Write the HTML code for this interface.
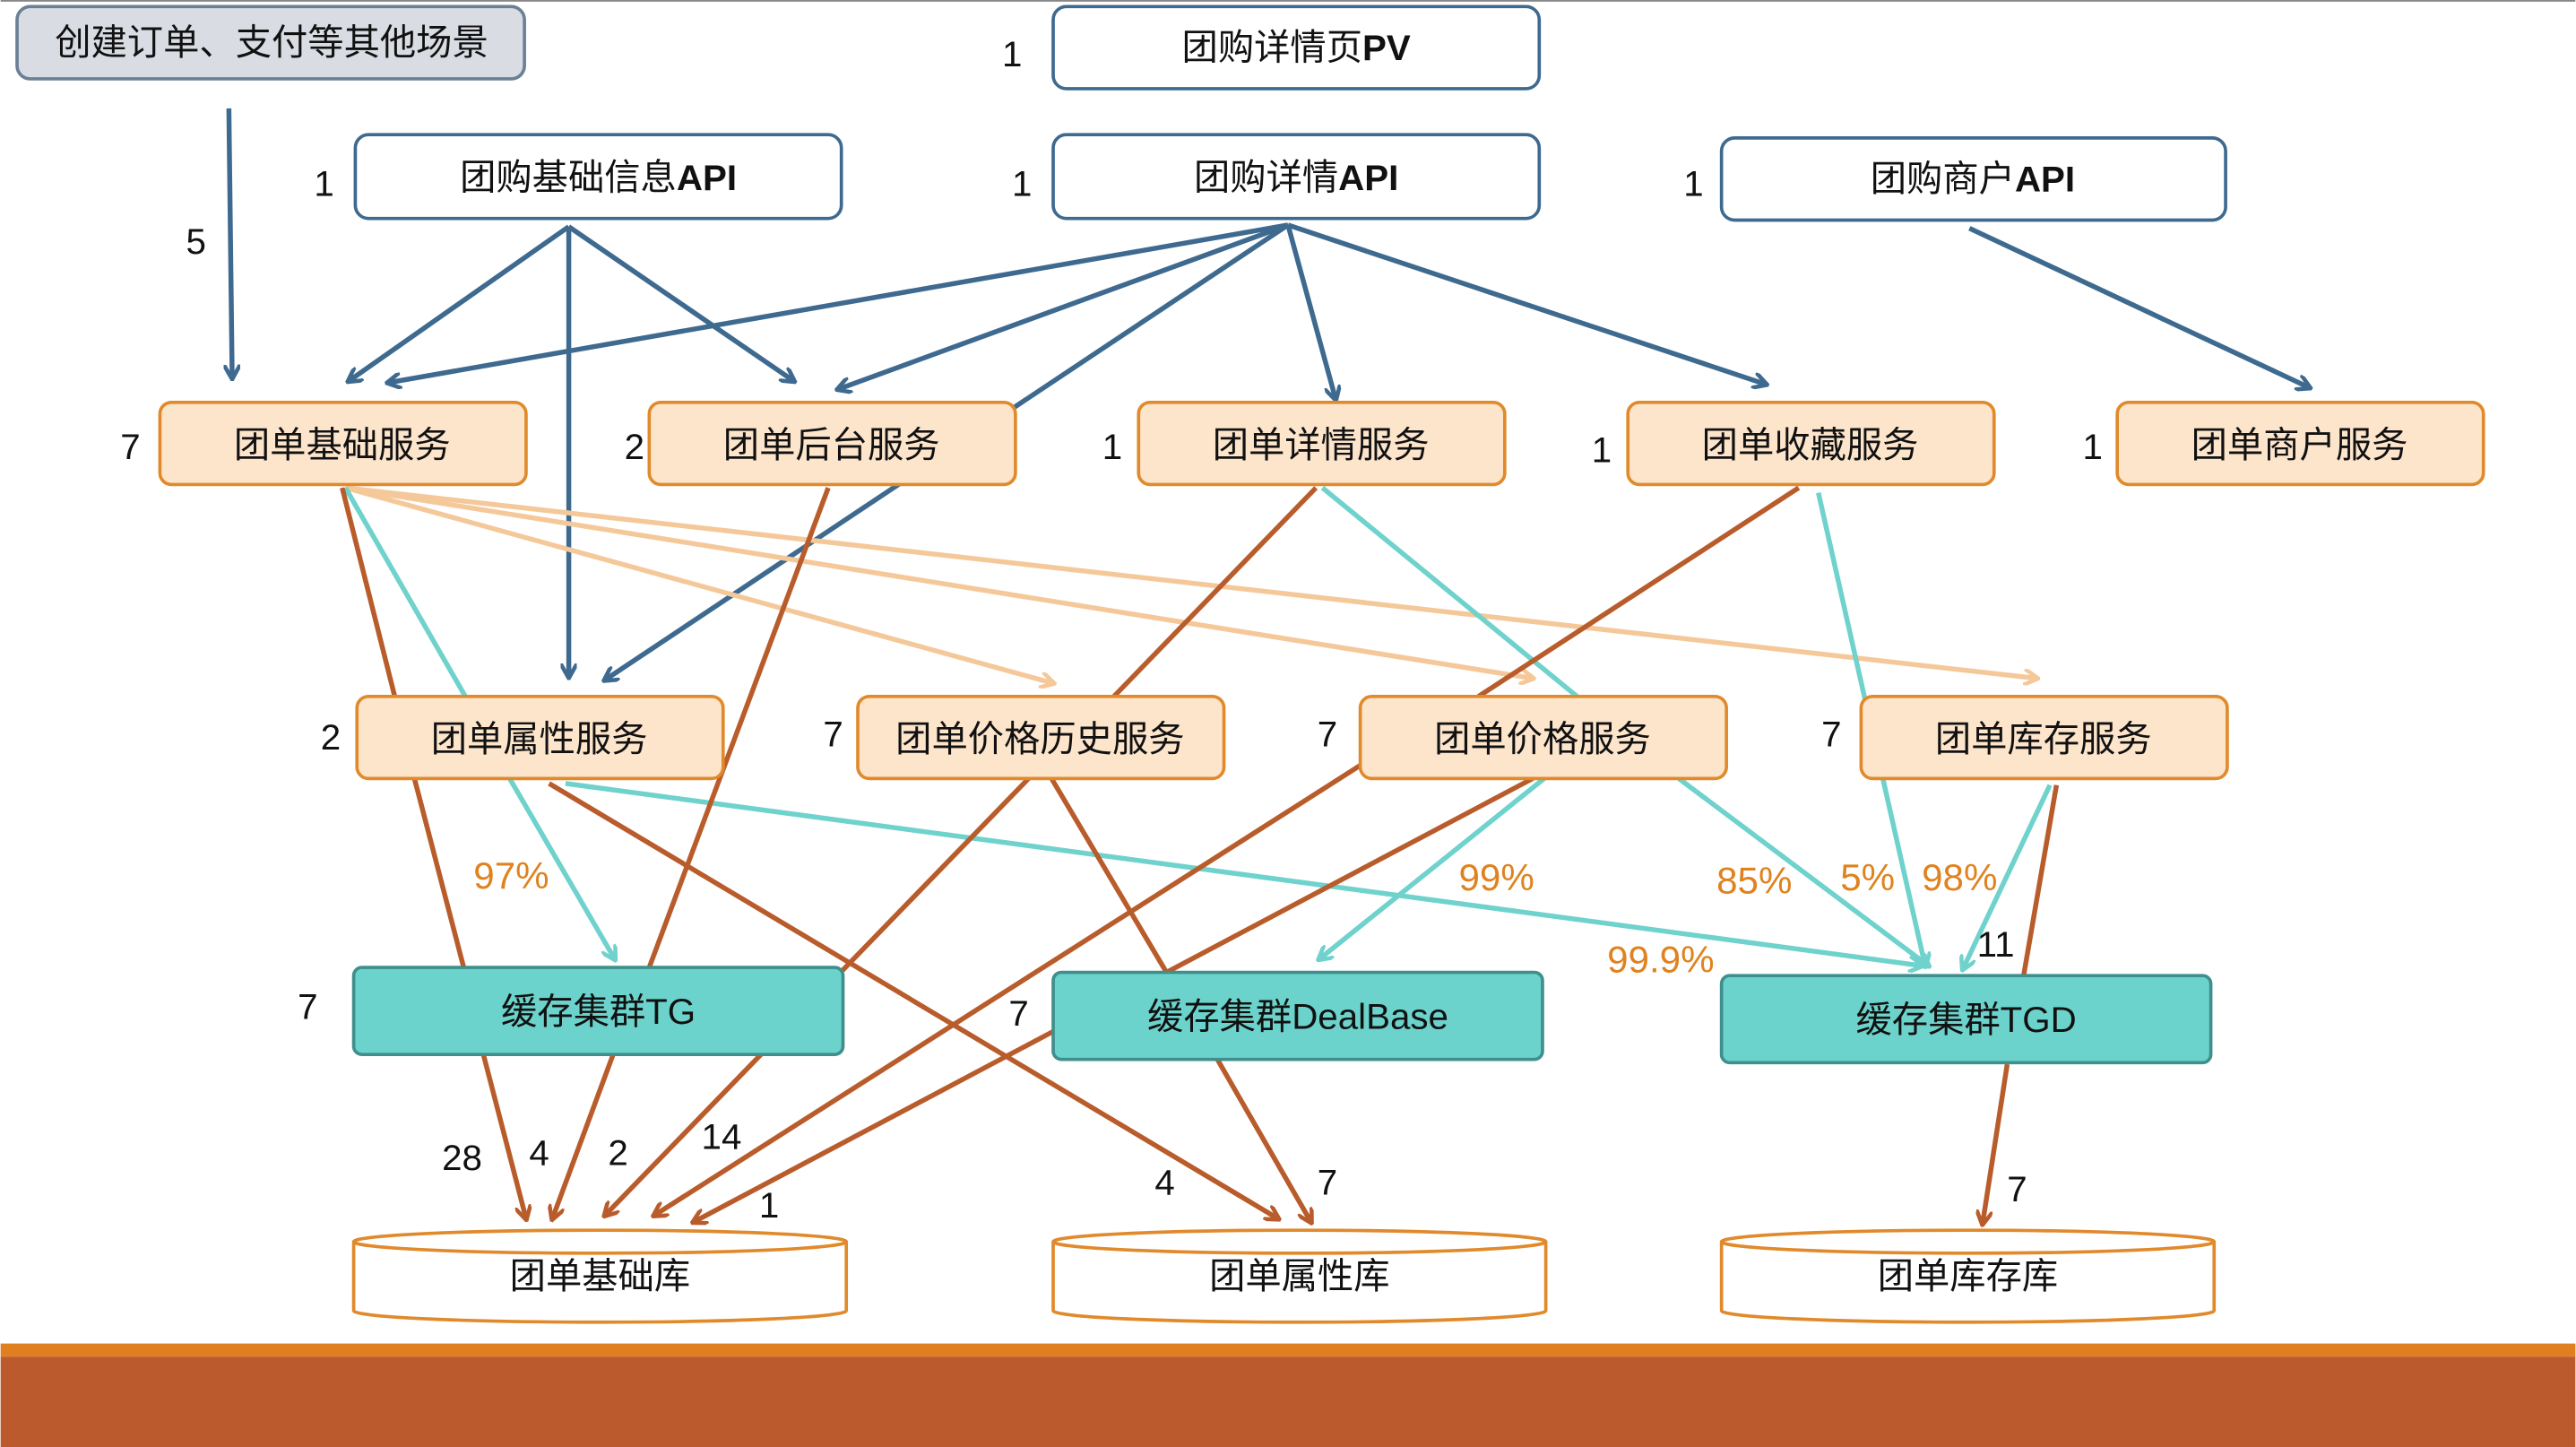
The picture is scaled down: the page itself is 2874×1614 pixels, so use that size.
<!DOCTYPE html>
<html><head><meta charset="utf-8"><style>
html,body{margin:0;padding:0;background:#fff;width:2874px;height:1614px;overflow:hidden}
svg{display:block}
text{font-family:"Liberation Sans","Noto Sans CJK SC",sans-serif;font-size:22px;fill:#111}
.c{text-anchor:middle;dominant-baseline:central}
.p{fill:#e0821f;font-size:23px}
.b{stroke:#3e6a8f;stroke-width:3;fill:none}
.r{stroke:#b95c2c;stroke-width:3;fill:none}
.t{stroke:#6fd2cc;stroke-width:3;fill:none}
.o{stroke:#f5c89a;stroke-width:3;fill:none}
</style></head><body>
<svg width="2874" height="1614" viewBox="0 0 1568 881">
<defs>
<marker id="ab" markerWidth="10" markerHeight="10" refX="8" refY="5" orient="auto" markerUnits="userSpaceOnUse"><path d="M0,0 L9,5 L0,10" fill="none" stroke="#3e6a8f" stroke-width="2.5"/></marker>
<marker id="ar" markerWidth="10" markerHeight="10" refX="8" refY="5" orient="auto" markerUnits="userSpaceOnUse"><path d="M0,0 L9,5 L0,10" fill="none" stroke="#b95c2c" stroke-width="2.5"/></marker>
<marker id="at" markerWidth="10" markerHeight="10" refX="8" refY="5" orient="auto" markerUnits="userSpaceOnUse"><path d="M0,0 L9,5 L0,10" fill="none" stroke="#6fd2cc" stroke-width="2.5"/></marker>
<marker id="ao" markerWidth="10" markerHeight="10" refX="8" refY="5" orient="auto" markerUnits="userSpaceOnUse"><path d="M0,0 L9,5 L0,10" fill="none" stroke="#f5c89a" stroke-width="2.5"/></marker>
</defs>
<line x1="0" y1="0.5" x2="1568" y2="0.5" stroke="#888" stroke-width="1"/>
<!-- blue -->
<g class="b" marker-end="url(#ab)">
<line x1="139" y1="66" x2="141" y2="230"/>
<line x1="346" y1="138" x2="212" y2="232"/>
<line x1="346" y1="138" x2="346" y2="412"/>
<line x1="346" y1="138" x2="483" y2="232"/>
<line x1="784" y1="137" x2="236" y2="233"/>
<line x1="784" y1="137" x2="510" y2="237"/>
<line x1="784" y1="137" x2="368" y2="414"/>
<line x1="784" y1="137" x2="813" y2="243"/>
<line x1="784" y1="137" x2="1075" y2="234"/>
<line x1="1199" y1="139" x2="1406" y2="236"/>
</g>
<!-- light orange -->
<g class="o" marker-end="url(#ao)">
<line x1="210" y1="297" x2="641" y2="416"/>
<line x1="210" y1="297" x2="933" y2="413"/>
<line x1="210" y1="297" x2="1240" y2="413"/>
</g>
<!-- teal -->
<g class="t">
<line x1="210" y1="297" x2="283" y2="424"/>
<line x1="805" y1="297" x2="960" y2="424"/>
<line x1="310" y1="474" x2="374" y2="584" marker-end="url(#at)"/>
<line x1="344" y1="477" x2="1170" y2="588" marker-end="url(#at)"/>
<line x1="940" y1="474" x2="803" y2="584" marker-end="url(#at)"/>
<line x1="1022" y1="474" x2="1174" y2="588" marker-end="url(#at)"/>
<line x1="1107" y1="300" x2="1172" y2="588" marker-end="url(#at)"/>
<line x1="1248" y1="478" x2="1195" y2="590" marker-end="url(#at)"/>
</g>
<!-- rust -->
<g class="r">
<line x1="208" y1="297" x2="240" y2="424"/>
<line x1="252" y1="474" x2="282" y2="589"/>
<line x1="294" y1="642" x2="320" y2="742" marker-end="url(#ar)"/>
<line x1="504" y1="297" x2="395" y2="589"/>
<line x1="373" y1="642" x2="336" y2="742" marker-end="url(#ar)"/>
<line x1="801" y1="297" x2="678" y2="424"/>
<line x1="626" y1="474" x2="368" y2="740" marker-end="url(#ar)"/>
<line x1="828" y1="466" x2="398" y2="740" marker-end="url(#ar)"/>
<line x1="933" y1="474" x2="710" y2="592"/>
<line x1="640" y1="474" x2="710" y2="592"/>
<line x1="641" y1="628" x2="422" y2="744" marker-end="url(#ar)"/>
<line x1="334" y1="477" x2="778" y2="742" marker-end="url(#ar)"/>
<line x1="741" y1="645" x2="798" y2="744" marker-end="url(#ar)"/>
<line x1="1095" y1="297" x2="900" y2="424"/>
<line x1="1252" y1="478" x2="1232" y2="594"/>
<line x1="1222" y1="648" x2="1207" y2="745" marker-end="url(#ar)"/>
</g>
<!-- top gray -->
<rect x="10" y="4" width="309" height="44" rx="8" fill="#d9dde3" stroke="#6b8096" stroke-width="2"/>
<text class="c" x="165" y="26">创建订单、支付等其他场景</text>
<!-- API boxes -->
<g fill="#fff" stroke="#3e6a8f" stroke-width="2">
<rect x="641" y="4" width="296" height="50" rx="8"/>
<rect x="216" y="82" width="296" height="51" rx="8"/>
<rect x="641" y="82" width="296" height="51" rx="8"/>
<rect x="1048" y="84" width="307" height="50" rx="8"/>
</g>
<text class="c" x="789" y="29">团购详情页<tspan font-weight="bold">PV</tspan></text>
<text class="c" x="364" y="108">团购基础信息<tspan font-weight="bold">API</tspan></text>
<text class="c" x="789" y="108">团购详情<tspan font-weight="bold">API</tspan></text>
<text class="c" x="1201" y="109">团购商户<tspan font-weight="bold">API</tspan></text>
<!-- services -->
<g fill="#fde5cc" stroke="#e08a2c" stroke-width="2">
<rect x="97" y="245" width="223" height="50" rx="7"/>
<rect x="395" y="245" width="223" height="50" rx="7"/>
<rect x="693" y="245" width="223" height="50" rx="7"/>
<rect x="991" y="245" width="223" height="50" rx="7"/>
<rect x="1289" y="245" width="223" height="50" rx="7"/>
<rect x="217" y="424" width="223" height="50" rx="7"/>
<rect x="522" y="424" width="223" height="50" rx="7"/>
<rect x="828" y="424" width="223" height="50" rx="7"/>
<rect x="1133" y="424" width="223" height="50" rx="7"/>
</g>
<text class="c" x="208" y="271">团单基础服务</text>
<text class="c" x="506" y="271">团单后台服务</text>
<text class="c" x="804" y="271">团单详情服务</text>
<text class="c" x="1102" y="271">团单收藏服务</text>
<text class="c" x="1400" y="271">团单商户服务</text>
<text class="c" x="328" y="450">团单属性服务</text>
<text class="c" x="633" y="450">团单价格历史服务</text>
<text class="c" x="939" y="450">团单价格服务</text>
<text class="c" x="1244" y="450">团单库存服务</text>
<!-- caches -->
<g fill="#6cd3cc" stroke="#3f8f8c" stroke-width="2">
<rect x="215" y="589" width="298" height="53" rx="5"/>
<rect x="641" y="592" width="298" height="53" rx="5"/>
<rect x="1048" y="594" width="298" height="53" rx="5"/>
</g>
<text class="c" x="364" y="616">缓存集群TG</text>
<text class="c" x="790" y="619">缓存集群DealBase</text>
<text class="c" x="1197" y="621">缓存集群TGD</text>
<!-- DBs -->
<g fill="#fff" stroke="#e08a2c" stroke-width="2">
<path d="M215,756 L215,798 A150,7 0 0 0 515,798 L515,756 A150,7 0 0 0 215,756 A150,7 0 0 0 515,756"/>
<path d="M641,756 L641,798 A150,7 0 0 0 941,798 L941,756 A150,7 0 0 0 641,756 A150,7 0 0 0 941,756"/>
<path d="M1048,756 L1048,798 A150,7 0 0 0 1348,798 L1348,756 A150,7 0 0 0 1048,756 A150,7 0 0 0 1348,756"/>
</g>
<text class="c" x="365" y="777">团单基础库</text>
<text class="c" x="791" y="777">团单属性库</text>
<text class="c" x="1198" y="777">团单库存库</text>
<!-- numeric labels -->
<g class="c">
<text class="c" x="616" y="33">1</text><text class="c" x="197" y="112">1</text>
<text class="c" x="622" y="112">1</text><text class="c" x="1031" y="112">1</text>
<text class="c" x="119" y="147">5</text>
<text class="c" x="79" y="272">7</text><text class="c" x="386" y="272">2</text>
<text class="c" x="677" y="272">1</text><text class="c" x="975" y="274">1</text>
<text class="c" x="1274" y="272">1</text>
<text class="c" x="201" y="449">2</text><text class="c" x="507" y="447">7</text>
<text class="c" x="808" y="447">7</text><text class="c" x="1115" y="447">7</text>
<text class="c" x="187" y="613">7</text><text class="c" x="620" y="617">7</text>
<text class="c" x="1215" y="575">11</text>
<text class="c" x="281" y="705">28</text><text class="c" x="328" y="702">4</text>
<text class="c" x="376" y="702">2</text><text class="c" x="439" y="692">14</text>
<text class="c" x="468" y="734">1</text><text class="c" x="709" y="720">4</text>
<text class="c" x="808" y="720">7</text><text class="c" x="1228" y="724">7</text>
</g>
<text class="c p" x="311" y="533">97%</text>
<text class="c p" x="911" y="534">99%</text>
<text class="c p" x="1068" y="536">85%</text>
<text class="c p" x="1137" y="534">5%</text>
<text class="c p" x="1193" y="534">98%</text>
<text class="c p" x="1011" y="584">99.9%</text>
<!-- footer -->
<rect x="0" y="818" width="1568" height="8" fill="#e07f1f"/>
<rect x="0" y="826" width="1568" height="55" fill="#bb5a2c"/>
</svg>
</body></html>
